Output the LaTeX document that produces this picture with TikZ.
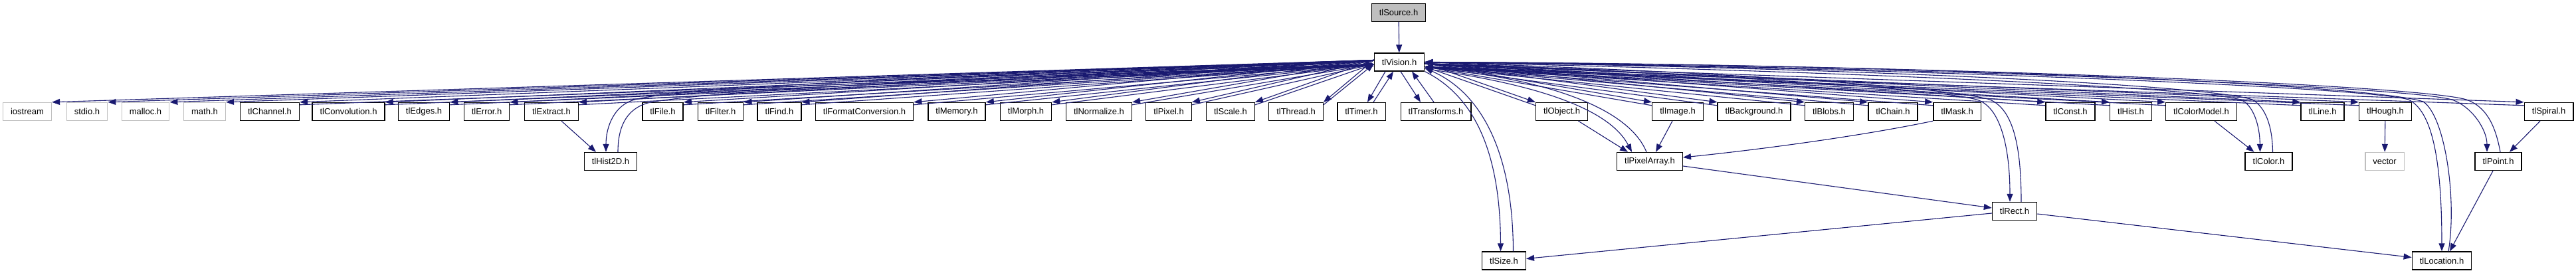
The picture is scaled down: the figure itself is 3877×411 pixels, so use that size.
\documentclass[tikz,border=0pt]{standalone}
\usepackage{fontspec}
\setmainfont{Liberation Sans}
\usetikzlibrary{arrows.meta}
\definecolor{edgeblue}{RGB}{25,25,112}
\definecolor{sysgray}{RGB}{191,191,191}
\tikzset{
  hdr/.style={draw=black, line width=1.4pt, fill=white, minimum height=27pt, inner xsep=11.5pt, inner ysep=0pt, font=\fontsize{13}{15}\selectfont},
  sys/.style={hdr, draw=sysgray},
  src/.style={hdr, fill=sysgray},
  dep/.style={draw=edgeblue, line width=1.1pt, -{Triangle[length=12pt,width=9pt]}},
}
\begin{document}
\begin{tikzpicture}[x=1pt,y=-1pt]
\useasboundingbox (0,0) rectangle (3877,411);
%top
	\node[src] (source) at (2105,19) {tlSource.h};
	\node[hdr] (vision) at (2106,93.5) {tlVision.h};

	%row of headers
	\node[sys] (iostream) at (41,168) {iostream};
	\node[sys] (stdio) at (131,168) {stdio.h};
	\node[sys] (malloc) at (219,168) {malloc.h};
	\node[sys] (math) at (308,168) {math.h};
	\node[hdr] (channel) at (406,168) {tlChannel.h};
	\node[hdr] (convolution) at (524.5,168) {tlConvolution.h};
	\node[hdr] (edges) at (638,168) {tlEdges.h};
	\node[hdr] (error) at (732.5,168) {tlError.h};
	\node[hdr] (extract) at (830,168) {tlExtract.h};
	\node[hdr] (file) at (997.5,168) {tlFile.h};
	\node[hdr] (filter) at (1084.5,168) {tlFilter.h};
	\node[hdr] (find) at (1173,168) {tlFind.h};
	\node[hdr] (formatconv) at (1301,168) {tlFormatConversion.h};
	\node[hdr] (memory) at (1440,168) {tlMemory.h};
	\node[hdr] (morph) at (1544,168) {tlMorph.h};
	\node[hdr] (normalize) at (1654,168) {tlNormalize.h};
	\node[hdr] (pixel) at (1759,168) {tlPixel.h};
	\node[hdr] (scale) at (1852,168) {tlScale.h};
	\node[hdr] (thread) at (1950.5,168) {tlThread.h};
	\node[hdr] (timer) at (2049,168) {tlTimer.h};
	\node[hdr] (transforms) at (2161,168) {tlTransforms.h};
	\node[hdr] (object) at (2350.5,168) {tlObject.h};
	\node[hdr] (image) at (2525,168) {tlImage.h};
	\node[hdr] (background) at (2640,168) {tlBackground.h};
	\node[hdr] (blobs) at (2753,168) {tlBlobs.h};
	\node[hdr] (chain) at (2849,168) {tlChain.h};
	\node[hdr] (mask) at (2945.5,168) {tlMask.h};
	\node[hdr] (const) at (3116,168) {tlConst.h};
	\node[hdr] (hist) at (3207,168) {tlHist.h};
	\node[hdr] (colormodel) at (3313,168) {tlColorModel.h};
	\node[hdr] (line) at (3495.5,168) {tlLine.h};
	\node[hdr] (hough) at (3590,168) {tlHough.h};
	\node[hdr] (spiral) at (3836,168) {tlSpiral.h};

	%lower levels
	\node[hdr] (hist2d) at (919,243) {tlHist2D.h};
	\node[hdr] (pixelarray) at (2483,243) {tlPixelArray.h};
	\node[hdr] (color) at (3414.5,243) {tlColor.h};
	\node[sys] (vector) at (3589,243) {vector};
	\node[hdr] (point) at (3760,243) {tlPoint.h};
	\node[hdr] (rect) at (3032,318) {tlRect.h};
	\node[hdr] (size) at (2263.5,392.5) {tlSize.h};
	\node[hdr] (location) at (3675,392.5) {tlLocation.h};

	%includes of tlVision.h, left side
	\draw[dep] (source) -- (vision);
	\foreach \n in {iostream,stdio,malloc,math}
		\draw[dep] ([yshift=3]vision.west) -- (\n.north east);
	\foreach \n in {channel,convolution,edges,error,extract,file,filter,find,formatconv,memory,morph,normalize,pixel,scale,thread}{
		\draw[dep] ([yshift=3]vision.west) -- (\n.north east);
		\draw[dep] ([yshift=-4]\n.north east) -- ([yshift=-3]vision.west);
	}
	\draw[dep] ([xshift=-21]vision.south) -- ([xshift=9]timer.north);
	\draw[dep] ([xshift=18]timer.north) -- ([xshift=-9]vision.south);
	\draw[dep] ([xshift=2]vision.south) -- ([xshift=-23]transforms.north);
	\draw[dep] ([xshift=-3]transforms.north) -- ([xshift=19]vision.south);

	%right side
	\foreach \n in {object,image,background,blobs,chain,mask,const,hist,colormodel,line,hough,spiral}{
		\draw[dep] ([yshift=-2]vision.east) -- (\n.north west);
		\draw[dep] ([yshift=-5]\n.north west) -- ([yshift=-7]vision.east);
	}

	%long ones
	\draw[dep] ([yshift=-4]vision.west) .. controls (1500,110) and (1030,130) .. (955,150) .. controls (925,158) and (912,190) .. ([xshift=-7]hist2d.north);
	\draw[dep] ([xshift=11]hist2d.north) .. controls (930,195) and (940,165) .. (975,155) .. controls (1050,138) and (1500,112) .. ([yshift=-6]vision.west);
	\draw[dep] (vision.south east) .. controls (2230,150) and (2258,250) .. ([xshift=-5]size.north);
	\draw[dep] ([xshift=14]size.north) .. controls (2277,230) and (2230,140) .. ([yshift=-9]vision.east);
	\draw[dep] ([yshift=-10]vision.east) .. controls (2300,125) and (2420,160) .. ([xshift=-27]pixelarray.north);
	\draw[dep] ([xshift=-5]pixelarray.north) .. controls (2450,160) and (2320,118) .. ([yshift=-8]vision.east);
	\draw[dep] (vision.east) .. controls (2500,110) and (2900,130) .. (2975,150) .. controls (3010,160) and (3025,220) .. ([xshift=-7]rect.north);
	\draw[dep] ([xshift=10]rect.north) .. controls (3042,220) and (3030,165) .. (2995,150) .. controls (2920,128) and (2500,105) .. (vision.east);
	\draw[dep] (vision.east) .. controls (2700,105) and (3300,130) .. (3372,150) .. controls (3392,158) and (3401,190) .. ([xshift=-13]color.north);
	\draw[dep] ([xshift=6]color.north) .. controls (3420,190) and (3410,162) .. (3390,150) .. controls (3310,125) and (2700,100) .. (vision.east);
	\draw[dep] (vision.east) .. controls (2800,100) and (3560,130) .. (3625,150) .. controls (3655,165) and (3675,220) .. (location.north);
	\draw[dep] ([xshift=10]location.north) .. controls (3698,300) and (3680,175) .. (3647,153) .. controls (3560,125) and (2800,95) .. (vision.east);
	\draw[dep] (vision.east) .. controls (2900,100) and (3620,130) .. (3690,150) .. controls (3720,160) and (3743,195) .. ([xshift=-17]point.north);
	\draw[dep] ([xshift=3]point.north) .. controls (3755,185) and (3740,160) .. (3712,150) .. controls (3640,128) and (2900,97) .. (vision.east);

	%other includes
	\draw[dep] ([xshift=15]extract.south) -- ([xshift=-22]hist2d.north);
	\draw[dep] ([xshift=25]object.south) -- ([xshift=-33]pixelarray.north);
	\draw[dep] ([xshift=-8]image.south) -- ([xshift=9]pixelarray.north);
	\draw[dep] (mask.south west) .. controls (2800,205) and (2650,225) .. ([yshift=6]pixelarray.east);
	\draw[dep] ([yshift=-7]pixelarray.east) -- ([yshift=5]rect.west);
	\draw[dep] ([yshift=-3]rect.west) -- ([yshift=3]size.east);
	\draw[dep] ([yshift=-4]rect.east) -- ([yshift=5]location.west);
	\draw[dep] ([xshift=20]colormodel.south) -- ([xshift=-22]color.north);
	\draw[dep] (hough) -- (vector);
	\draw[dep] ([xshift=-13]spiral.south) -- ([xshift=17]point.north);
	\draw[dep] ([xshift=-8]point.south) -- ([xshift=12]location.north);
\end{tikzpicture}
\end{document}
